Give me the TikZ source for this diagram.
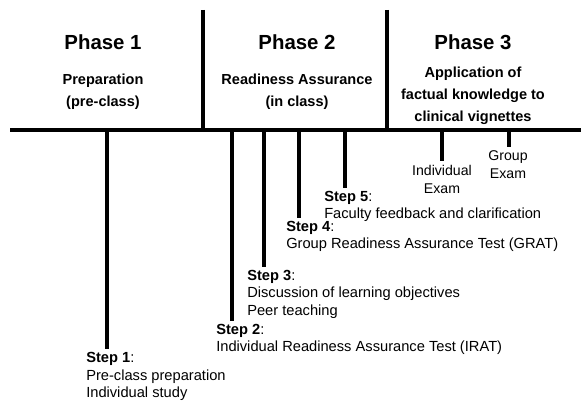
\documentclass[tikz,border=0pt]{standalone}
\usepackage{fontspec}
\setmainfont{Liberation Sans}
\usepackage{tikz}
\usetikzlibrary{positioning}

\begin{document}
\begin{tikzpicture}[x=0.75pt, y=-0.75pt,
				bar/.style={line width=3pt},
				phase/.style={font=\fontsize{15.3}{18}\selectfont\bfseries, inner sep=0pt},
				phasesub/.style={font=\fontsize{10.9}{16.5}\selectfont\bfseries, align=center, inner sep=0pt},
				steptext/.style={font=\fontsize{11}{13.2}\selectfont, align=left, anchor=west, inner sep=0pt},
				examtext/.style={font=\fontsize{10.6}{13.5}\selectfont, align=center, inner sep=0pt}]
				%Bildbereich
				\useasboundingbox (0,0) rectangle (581,403);
				% Zeitachse und Trennlinien
				\coordinate (links) at (10,130);
				\coordinate (rechts) at (581,130);
				\coordinate (d1) at (203,10);
				\coordinate (d2) at (387,10);
				\draw[bar] (links) -- (rechts);
				\draw[bar] (d1) -- (d1 |- links);
				\draw[bar] (d2) -- (d2 |- links);
				% Phasen
				\node[phase] (ph1) at (103,42) {Phase 1};
				\node[phase] (ph2) at (297,42) {Phase 2};
				\node[phase] (ph3) at (473,42) {Phase 3};
				\node[phasesub] (sub1) at (103,92) {Preparation\\(pre-class)};
				\node[phasesub] (sub2) at (297,92) {Readiness Assurance\\(in class)};
				\node[phasesub] (sub3) at (473,96) {Application of\\factual knowledge to\\clinical vignettes};
				% Schritte
				\node[steptext] (step1) at (86,376.5) {\textbf{Step 1}:\\Pre-class preparation\\Individual study};
				\node[steptext] (step2) at (216,339.5) {\textbf{Step 2}:\\Individual Readiness Assurance Test (IRAT)};
				\node[steptext] (step3) at (247,294) {\textbf{Step 3}:\\Discussion of learning objectives\\Peer teaching};
				\node[steptext] (step4) at (286,236.5) {\textbf{Step 4}:\\Group Readiness Assurance Test (GRAT)};
				\node[steptext] (step5) at (324,206.5) {\textbf{Step 5}:\\Faculty feedback and clarification};
				\node[examtext] (iex) at (442,179) {Individual\\Exam};
				\node[examtext] (gex) at (508,165) {Group\\Exam};
				% Marken auf der Achse
				\foreach \n/\x in {1/107,2/232,3/264,4/299,5/345,iex/442,gex/509}
					\coordinate (a\n) at (\x,130);
				\foreach \n in {1,...,5}
					\draw[bar] (a\n) -- ([yshift=2pt]a\n |- step\n.north);
				\draw[bar] (aiex) -- ([yshift=3pt]aiex |- iex.north);
				\draw[bar] (agex) -- ([yshift=3pt]agex |- gex.north);
			\end{tikzpicture}
\end{document}
